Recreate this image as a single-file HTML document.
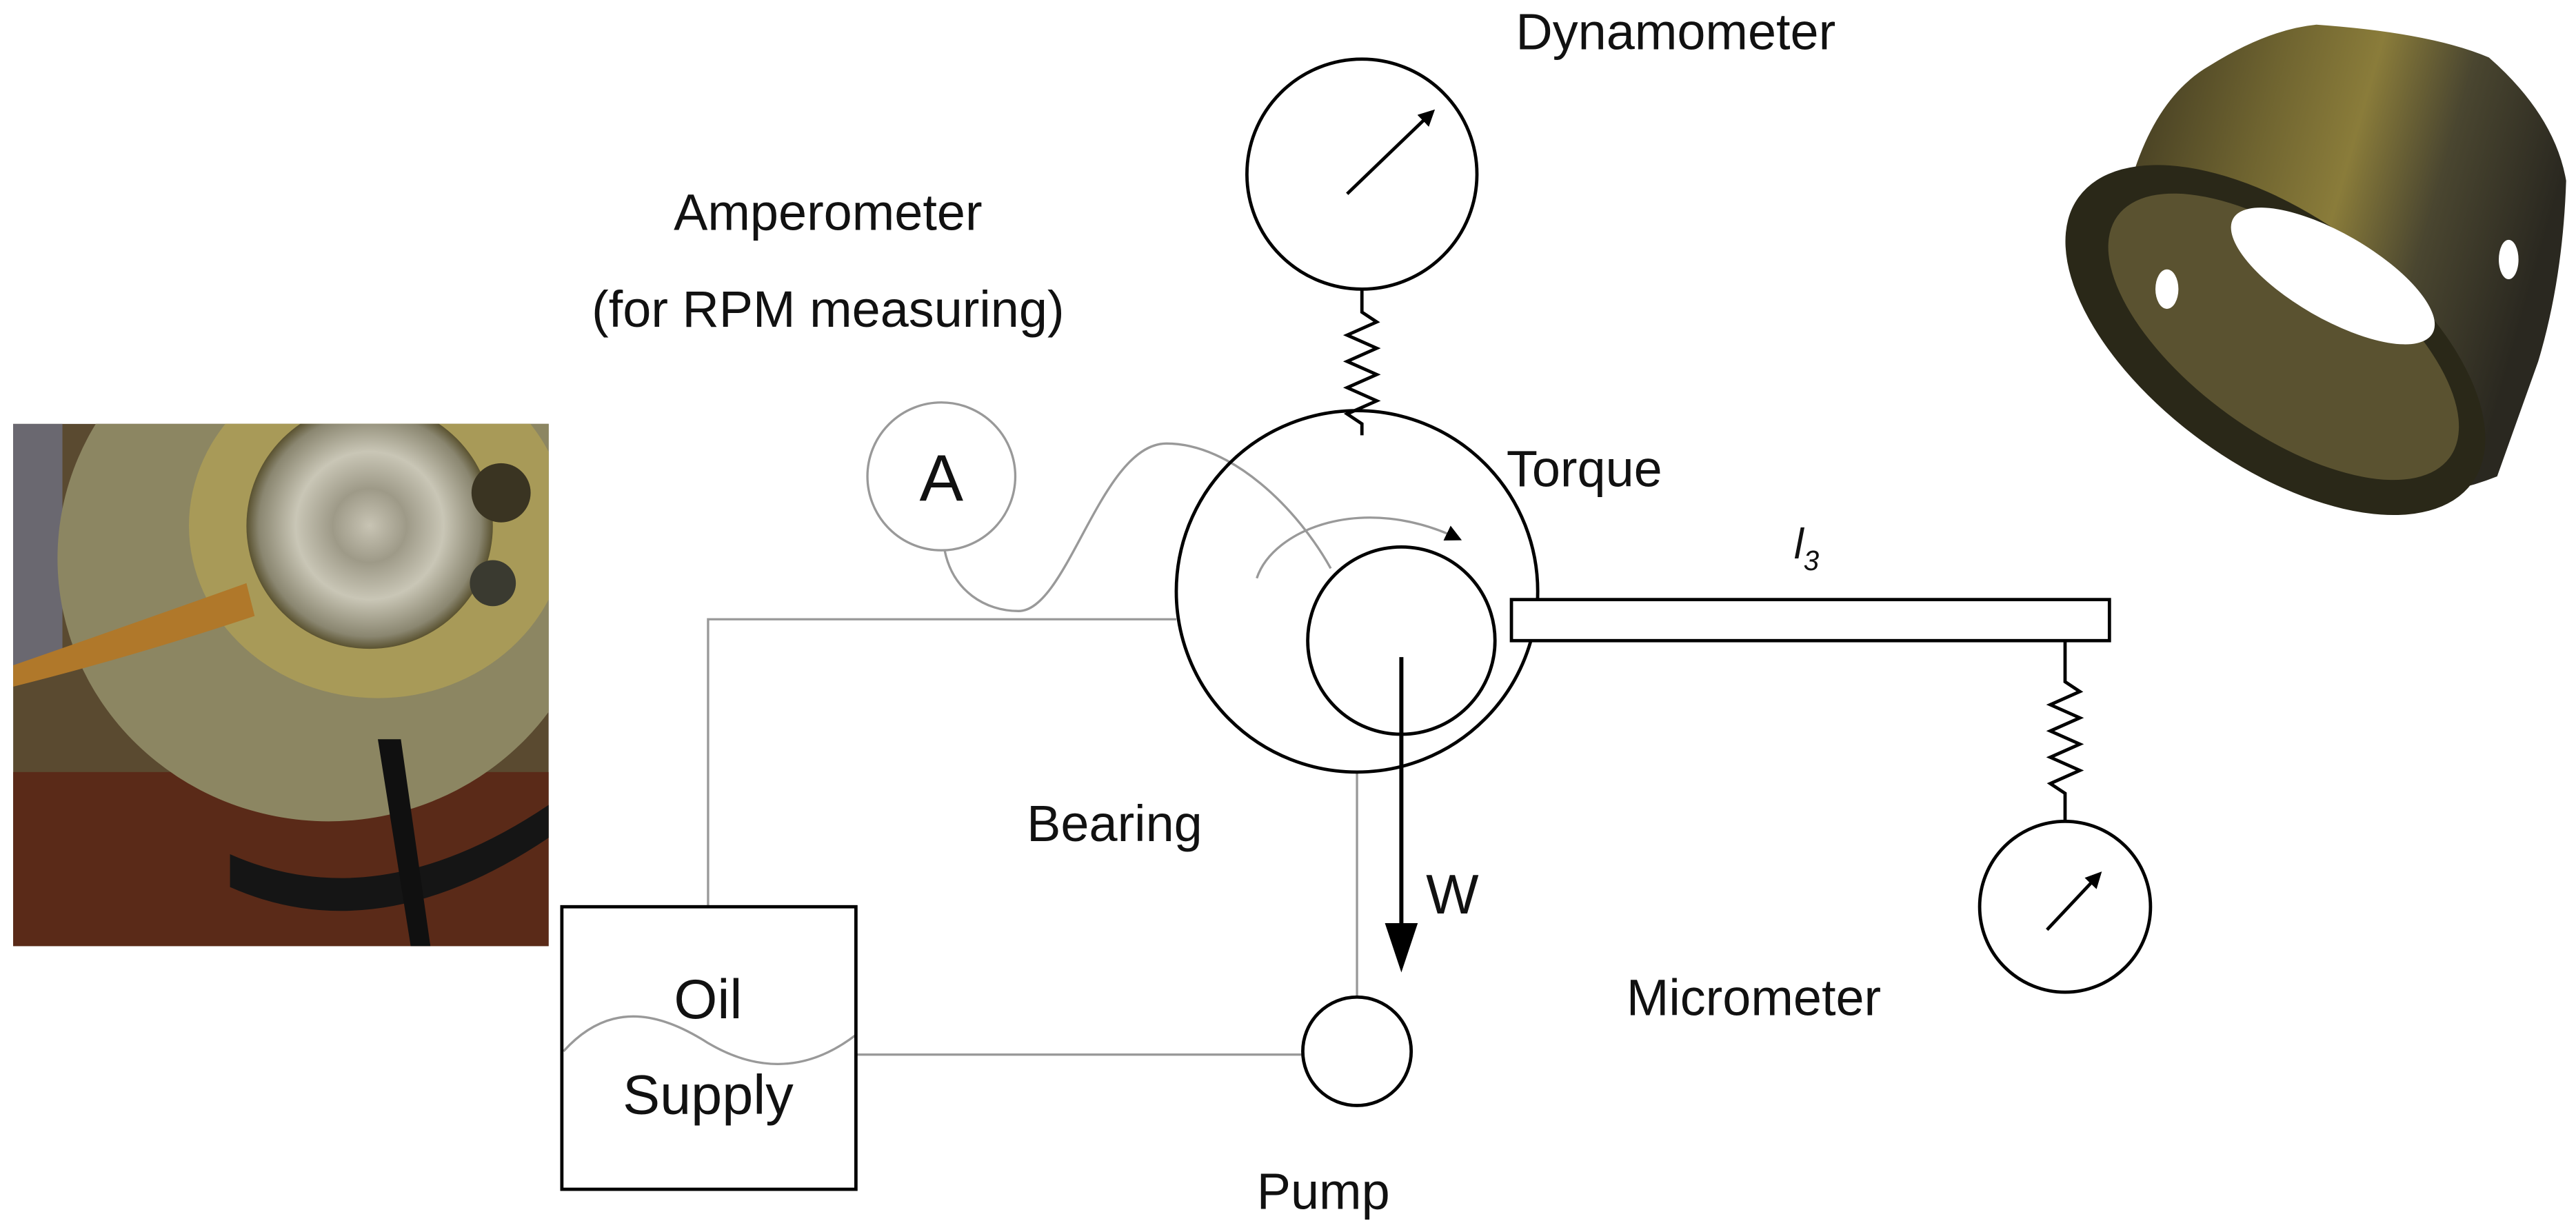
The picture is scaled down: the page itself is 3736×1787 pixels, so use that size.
<!DOCTYPE html>
<html><head><meta charset="utf-8"><style>
html,body{margin:0;padding:0;background:#fff;}
svg{display:block;}
text{font-family:"Liberation Sans",Arial,sans-serif;fill:#111;}
</style></head><body>
<svg width="3736" height="1787" viewBox="0 0 1568 750" xmlns="http://www.w3.org/2000/svg">
<defs>
<radialGradient id="disc" cx="0.5" cy="0.5" r="0.5">
<stop offset="0" stop-color="#c8c4b4"/><stop offset="0.3" stop-color="#9e9a88"/><stop offset="0.6" stop-color="#c9c6b6"/><stop offset="0.9" stop-color="#8a8670"/><stop offset="1" stop-color="#5a5230"/></radialGradient>
<linearGradient id="brz" x1="0" y1="0" x2="1" y2="0.3">
<stop offset="0" stop-color="#3a3420"/><stop offset="0.35" stop-color="#6f6430"/><stop offset="0.55" stop-color="#8a7c3a"/><stop offset="0.75" stop-color="#4a4630"/><stop offset="1" stop-color="#2a2820"/></linearGradient>
<clipPath id="pc"><rect x="8" y="258" width="326" height="318"/></clipPath>
<marker id="ah" markerWidth="10" markerHeight="10" refX="8" refY="5" orient="auto" markerUnits="userSpaceOnUse"><path d="M0,0 L10,5 L0,10 z" fill="#000"/></marker>
</defs>

<!-- left photo -->
<g clip-path="url(#pc)">
<rect x="8" y="258" width="326" height="318" fill="#5a4a30"/>
<rect x="8" y="258" width="30" height="150" fill="#6a6870"/>
<rect x="8" y="470" width="326" height="106" fill="#5a2a18"/>
<ellipse cx="200" cy="340" rx="165" ry="160" fill="#8c8662"/>
<ellipse cx="230" cy="320" rx="115" ry="105" fill="#a89a58"/>
<circle cx="225" cy="320" r="75" fill="url(#disc)"/>
<circle cx="305" cy="300" r="18" fill="#3a3422"/>
<circle cx="300" cy="355" r="14" fill="#3a3a30"/>
<path d="M8,405 Q80,380 150,355 L155,375 Q80,400 8,418 z" fill="#b0782a"/>
<path d="M140,520 Q230,560 334,490 L334,510 Q230,580 140,540 z" fill="#151515"/>
<path d="M230,450 L250,576 L262,576 L244,450 z" fill="#101010"/>
</g>

<!-- bushing -->
<g>
<path d="M1295,118 Q1310,60 1345,40 Q1380,18 1410,15 Q1480,20 1515,35 Q1555,70 1562,110 Q1560,170 1545,220 L1520,290 Q1470,310 1420,295 L1290,200 z" fill="url(#brz)"/>
<ellipse cx="1385" cy="207" rx="148" ry="76" transform="rotate(36 1385 207)" fill="#2a2818"/>
<ellipse cx="1390" cy="205" rx="125" ry="58" transform="rotate(36 1390 205)" fill="#5a5230"/>
<ellipse cx="1420" cy="168" rx="70" ry="26" transform="rotate(30 1420 168)" fill="#fff"/>
<ellipse cx="1319" cy="176" rx="7" ry="12" fill="#fff"/>
<ellipse cx="1527" cy="158" rx="6" ry="12" fill="#fff"/>
</g>

<!-- gray lines -->
<g fill="none" stroke="#999" stroke-width="1.4">
<polyline points="431,552 431,377 716,377"/>
<line x1="521" y1="642" x2="793" y2="642"/>
<line x1="826" y1="470" x2="826" y2="607"/>
<path d="M575,335 C580,360 600,372 620,372 C650,372 670,270 710,270 C750,270 790,310 810,346"/>
<path d="M343,640 C370,610 400,615 431,635 C465,655 495,650 521,630"/>
<circle cx="573" cy="290" r="45"/>
</g>

<!-- black shapes -->
<g fill="none" stroke="#000" stroke-width="2">
<circle cx="829" cy="106" r="70"/>
<polyline points="829,176 829,190 838,196 820,204 838,212 820,220 838,228 820,236 838,244 820,252 829,258 829,265"/>
<circle cx="826" cy="360" r="110"/>
<circle cx="853" cy="390" r="57"/>
<rect x="920" y="365" width="364" height="25" fill="#fff"/>
<polyline points="1257,390 1257,415 1266,421 1248,429 1266,437 1248,445 1266,453 1248,461 1266,469 1248,477 1257,483 1257,500"/>
<circle cx="1257" cy="552" r="52"/>
<circle cx="826" cy="640" r="33"/>
<rect x="342" y="552" width="179" height="172"/>
</g>
<path d="M765,352 C775,322 830,300 888,328" fill="none" stroke="#999" stroke-width="1.4" marker-end="url(#ah)"/>
<line x1="820" y1="118" x2="872" y2="68" stroke="#000" stroke-width="2" marker-end="url(#ah)"/>
<line x1="1246" y1="566" x2="1278" y2="532" stroke="#000" stroke-width="2" marker-end="url(#ah)"/>
<line x1="853" y1="400" x2="853" y2="584" stroke="#000" stroke-width="2.5"/>
<path d="M843,562 L853,592 L863,562 z" fill="#000"/>

<!-- text -->
<g font-size="31">
<text x="1020" y="30" text-anchor="middle">Dynamometer</text>
<text x="504" y="140" text-anchor="middle">Amperometer</text>
<text x="504" y="199" text-anchor="middle">(for RPM measuring)</text>
<text x="573" y="305" text-anchor="middle" font-size="40">A</text>
<text x="917" y="296">Torque</text>
<text x="625" y="512">Bearing</text>
<text x="868" y="556" font-size="34">W</text>
<text x="990" y="618">Micrometer</text>
<text x="765" y="736">Pump</text>
<text x="431" y="620" text-anchor="middle" font-size="34">Oil</text>
<text x="431" y="678" text-anchor="middle" font-size="34">Supply</text>
</g>
<text x="1092" y="340" font-family="Liberation Serif,serif" font-style="italic" font-size="26">l<tspan font-size="17" dy="7">3</tspan></text>
</svg>
</body></html>
